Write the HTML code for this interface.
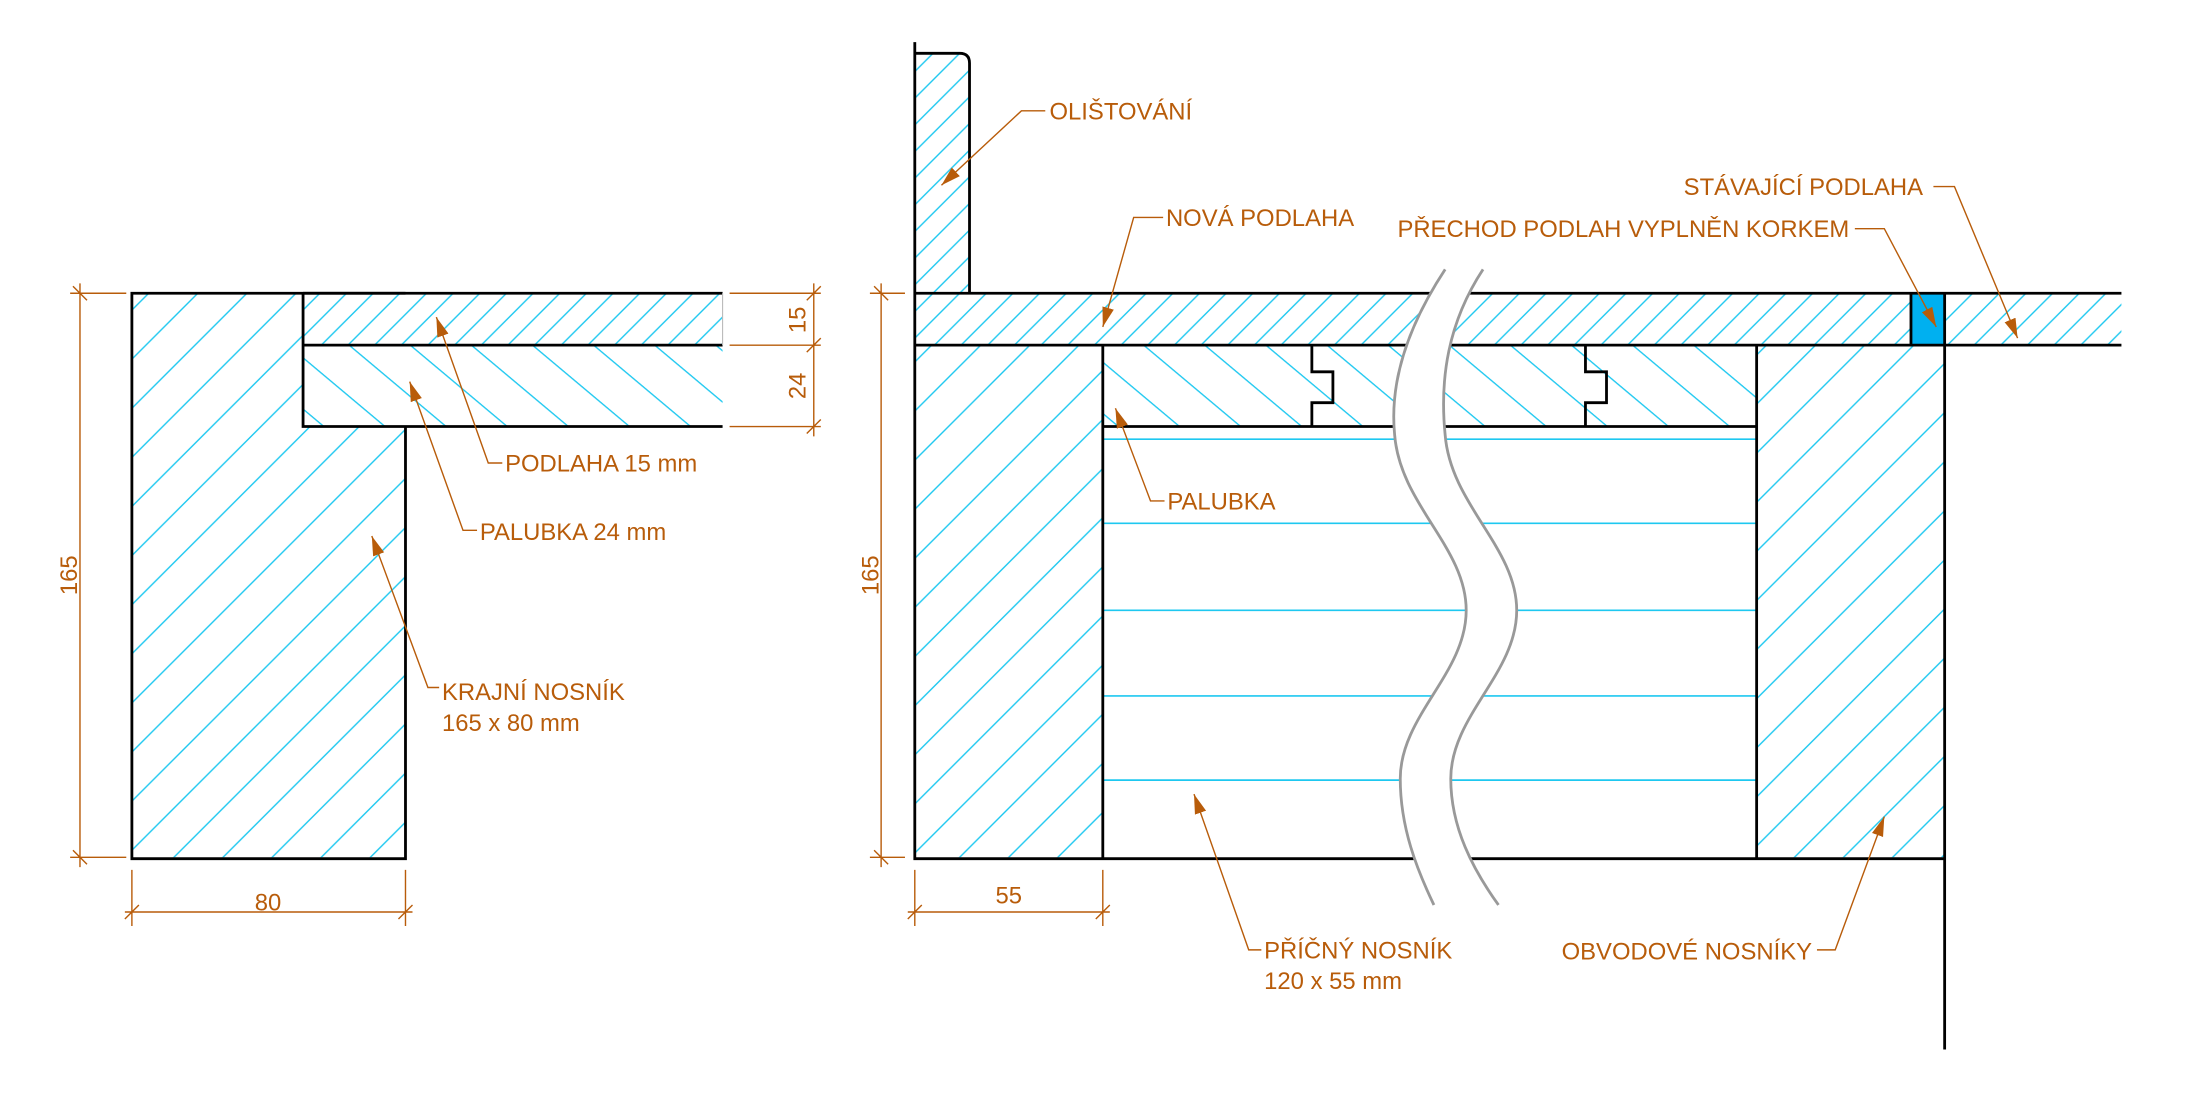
<!DOCTYPE html>
<html><head><meta charset="utf-8"><style>
html,body{margin:0;padding:0;background:#fff;}
svg{display:block;}
text{font-family:"Liberation Sans",sans-serif;fill:#b85c0a;font-size:17px;}
</style></head><body>
<svg width="2200" height="1100" viewBox="0 0 1568 784" xmlns="http://www.w3.org/2000/svg">
<defs>
<pattern id="hs" patternUnits="userSpaceOnUse" width="19" height="19">
<path d="M-2,2 L2,-2 M0,19 L19,0 M17,21 L21,17" stroke="#1ec8f0" stroke-width="1"/>
</pattern>
<pattern id="hb" patternUnits="userSpaceOnUse" width="35" height="35">
<path d="M-2,2 L2,-2 M0,35 L35,0 M33,37 L37,33" stroke="#1ec8f0" stroke-width="1"/>
</pattern>
<pattern id="hp" patternUnits="userSpaceOnUse" width="20" height="28" patternTransform="rotate(40)">
<path d="M-1,0.5 L21,0.5" stroke="#1ec8f0" stroke-width="1"/>
</pattern>
<marker id="ar" viewBox="0 0 10 10" refX="10" refY="5" markerWidth="14" markerHeight="14" markerUnits="userSpaceOnUse" orient="auto">
<path d="M0,2 L10,5 L0,8 Z" fill="#b85c0a"/>
</marker>
</defs>

<!-- LEFT DRAWING -->
<rect x="94" y="209" width="195" height="402" fill="url(#hb)"/>
<rect x="216" y="209" width="299" height="37" fill="#fff"/>
<rect x="216" y="209" width="299" height="37" fill="url(#hs)"/>
<rect x="216" y="246" width="299" height="58" fill="#fff"/>
<rect x="216" y="246" width="299" height="58" fill="url(#hp)"/>
<g stroke="#000" stroke-width="2" fill="none">
<path d="M94,209 L289,209 M94,208 L94,612 L289,612 L289,304"/>
<path d="M216,209 L515,209 M216,209 L216,304 L515,304 M216,246 L515,246"/>
</g>
<line x1="515" y1="209" x2="515" y2="246" stroke="#bbb" stroke-width="0.8"/>

<!-- left dims -->
<g stroke="#b85c0a" stroke-width="1" fill="none">
<path d="M57,202 L57,618 M50,209 L90,209 M50,611 L90,611 M52,204 L62,214 M52,606 L62,616"/>
<path d="M94,620 L94,660 M289,620 L289,660 M89,650 L294,650 M89,655 L99,645 M284,655 L294,645"/>
<path d="M520,209 L585,209 M520,246 L585,246 M520,304 L585,304 M580,202 L580,311 M575,214 L585,204 M575,251 L585,241 M575,309 L585,299"/>
</g>
<text transform="translate(55,410) rotate(-90)" text-anchor="middle">165</text>
<text x="191" y="649" text-anchor="middle">80</text>
<text transform="translate(574,228) rotate(-90)" text-anchor="middle">15</text>
<text transform="translate(574,275) rotate(-90)" text-anchor="middle">24</text>

<!-- left leaders -->
<g stroke="#b85c0a" stroke-width="1" fill="none" marker-end="url(#ar)">
<path d="M358,330 L348,330 L311,226"/>
<path d="M340,378 L330,378 L292,272"/>
<path d="M313,490 L305,490 L265,382"/>
</g>
<text x="360" y="336">PODLAHA 15 mm</text>
<text x="342" y="385">PALUBKA 24 mm</text>
<text x="315" y="499">KRAJNÍ NOSNÍK</text>
<text x="315" y="521">165 x 80 mm</text>

<!-- RIGHT DRAWING -->
<path d="M652,38 L684,38 Q691,38 691,45 L691,209 L652,209 Z" fill="url(#hs)"/>
<rect x="652" y="209" width="710" height="37" fill="url(#hs)"/>
<rect x="1386" y="209" width="126" height="37" fill="url(#hs)"/>
<rect x="652" y="246" width="134" height="365" fill="url(#hb)"/>
<rect x="1252" y="246" width="134" height="365" fill="url(#hb)"/>
<rect x="786" y="246" width="466" height="58" fill="url(#hp)"/>
<rect x="1362" y="209" width="24" height="37" fill="#00b0f0"/>
<g stroke="#1ec8f0" stroke-width="1.2">
<path d="M786,313 L1252,313 M786,373 L1252,373 M786,435 L1252,435 M786,496 L1252,496 M786,556 L1252,556"/>
</g>
<g stroke="#000" stroke-width="2" fill="none">
<path d="M652,30 L652,612 L1386,612"/>
<path d="M652,38 L684,38 Q691,38 691,45 L691,209"/>
<path d="M652,209 L1512,209 M652,246 L1512,246 M786,246 L786,612 M1252,246 L1252,612 M1386,209 L1386,748 M1362,209 L1362,246"/>
<path d="M786,304 L1252,304"/>
<path d="M935,246 L935,265 L950,265 L950,287 L935,287 L935,304"/>
<path d="M1130,246 L1130,265 L1145,265 L1145,287 L1130,287 L1130,304"/>
</g>

<!-- break -->
<path d="M1030,192 C1005,230 990,270 994,310 C998,360 1045,390 1045,435 C1045,480 998,510 998,555 C998,590 1010,620 1022,645 L1068,645 C1050,620 1034,590 1034,555 C1034,510 1081,480 1081,435 C1081,390 1034,360 1030,310 C1026,270 1032,230 1057,192 Z" fill="#fff"/>
<g stroke="#999" stroke-width="2" fill="none">
<path d="M1030,192 C1005,230 990,270 994,310 C998,360 1045,390 1045,435 C1045,480 998,510 998,555 C998,590 1010,620 1022,645"/>
<path d="M1057,192 C1032,230 1026,270 1030,310 C1034,360 1081,390 1081,435 C1081,480 1034,510 1034,555 C1034,590 1050,620 1068,645"/>
</g>

<!-- right dims -->
<g stroke="#b85c0a" stroke-width="1" fill="none">
<path d="M628,202 L628,618 M620,209 L645,209 M620,611 L645,611 M623,204 L633,214 M623,606 L633,616"/>
<path d="M652,620 L652,660 M786,620 L786,660 M647,650 L791,650 M647,655 L657,645 M781,655 L791,645"/>
</g>
<text transform="translate(626,410) rotate(-90)" text-anchor="middle">165</text>
<text x="719" y="644" text-anchor="middle">55</text>

<!-- right leaders -->
<g stroke="#b85c0a" stroke-width="1" fill="none" marker-end="url(#ar)">
<path d="M745,79 L728,79 L671,132"/>
<path d="M829,155 L808,155 L786,233"/>
<path d="M830,357 L820,357 L795,291"/>
<path d="M1322,163 L1343,163 L1380,233"/>
<path d="M1378,133 L1393,133 L1438,241"/>
<path d="M899,677 L890,677 L851,566"/>
<path d="M1295,677 L1308,677 L1343,582"/>
</g>
<text x="748" y="85">OLIŠTOVÁNÍ</text>
<text x="831" y="161">NOVÁ PODLAHA</text>
<text x="832" y="363">PALUBKA</text>
<text x="996" y="169">PŘECHOD PODLAH VYPLNĚN KORKEM</text>
<text x="1200" y="139">STÁVAJÍCÍ PODLAHA</text>
<text x="901" y="683">PŘÍČNÝ NOSNÍK</text>
<text x="901" y="705">120 x 55 mm</text>
<text x="1113" y="684">OBVODOVÉ NOSNÍKY</text>
</svg>
</body></html>
